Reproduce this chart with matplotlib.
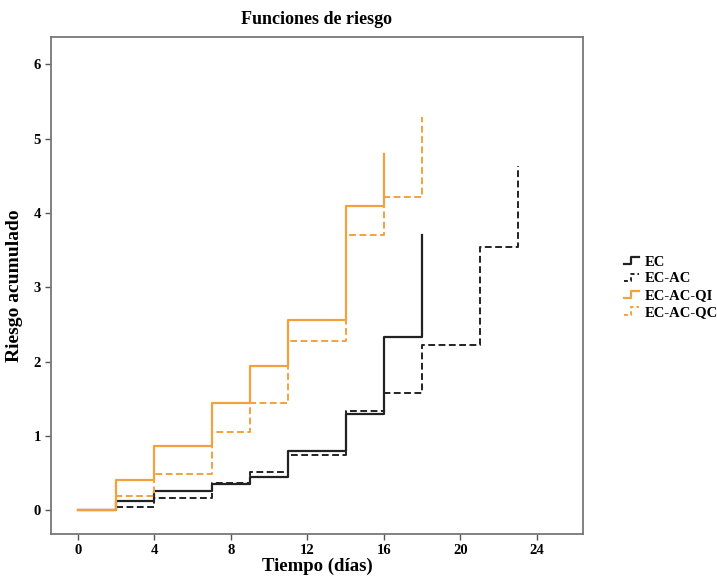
import matplotlib
matplotlib.use("Agg")
import matplotlib.pyplot as plt
from matplotlib.lines import Line2D
from matplotlib.legend_handler import HandlerLine2D

plt.rcParams['font.family'] = ['Liberation Serif', 'DejaVu Serif']
plt.rcParams['font.weight'] = 'bold'

# cumulative hazard, step functions (value holds until next time)
t_ec = [0, 2, 4, 7, 9, 11, 14, 16, 18]
h_ec = [0, 0.12, 0.26, 0.35, 0.45, 0.80, 1.29, 2.33, 3.71]

t_ecac = [0, 2, 4, 7, 9, 11, 14, 16, 18, 21, 23]
h_ecac = [0, 0.05, 0.16, 0.37, 0.52, 0.74, 1.34, 1.58, 2.23, 3.54, 4.63]

t_qi = [0, 2, 4, 7, 9, 11, 14, 16]
h_qi = [0, 0.41, 0.87, 1.45, 1.94, 2.56, 4.10, 4.80]

t_qc = [0, 2, 4, 7, 9, 11, 14, 16, 18]
h_qc = [0, 0.19, 0.49, 1.06, 1.45, 2.28, 3.71, 4.22, 5.29]

labels = ["EC", "EC-AC", "EC-AC-QI", "EC-AC-QC"]
x_ticks = [0, 4, 8, 12, 16, 20, 24]
y_ticks = [0, 1, 2, 3, 4, 5, 6]

orange = '#F2A23C'
dash = (0, (3.5, 1.8))


class StepHandler(HandlerLine2D):
    # draw the little step glyph used in the legend
    def create_artists(self, legend, orig_handle, xdescent, ydescent,
                       width, height, fontsize, trans):
        x0 = -xdescent
        mid = x0 + width * 0.45
        y_lo = -ydescent + height * 0.15
        y_hi = -ydescent + height * 0.85
        ln = Line2D([x0, mid, mid, x0 + width], [y_lo, y_lo, y_hi, y_hi])
        self.update_prop(ln, orig_handle, legend)
        ln.set_dashes((2, 1.5)) if orig_handle.get_linestyle() != '-' else None
        ln.set_transform(trans)
        return [ln]


fig = plt.figure(figsize=(7.17, 5.78), dpi=100)
ax = fig.add_axes([0.071, 0.076, 0.742, 0.860])

l1, = ax.step(t_ec, h_ec, where='post', color='#222222', lw=1.6)
l2, = ax.step(t_ecac, h_ecac, where='post', color='#222222', lw=1.4, linestyle=dash)
l3, = ax.step(t_qi, h_qi, where='post', color=orange, lw=1.6)
l4, = ax.step(t_qc, h_qc, where='post', color=orange, lw=1.4, linestyle=dash)

ax.set_xlim(-1.4, 26.4)
ax.set_ylim(-0.32, 6.37)
ax.set_xticks(x_ticks)
ax.set_yticks(y_ticks)
ax.tick_params(direction='out', length=4, width=1, color='#555555',
               labelsize=10.5, pad=3)
for lab in ax.get_xticklabels() + ax.get_yticklabels():
    lab.set_fontweight('bold')
for s in ax.spines.values():
    s.set_color('#777777')
    s.set_linewidth(1.3)

ax.set_title("Funciones de riesgo", fontsize=13, fontweight='bold', pad=9)
ax.set_xlabel("Tiempo (días)", fontsize=13.5, fontweight='bold', labelpad=1)
ax.set_ylabel("Riesgo acumulado", fontsize=14, fontweight='bold', labelpad=8)

fig.legend([l1, l2, l3, l4], labels, loc='center left',
           bbox_to_anchor=(0.852, 0.503), frameon=False,
           handler_map={Line2D: StepHandler()},
           handlelength=1.0, handletextpad=0.4, labelspacing=0.25,
           prop={'weight': 'bold', 'size': 10.5})

fig.savefig("out.png", dpi=100)
